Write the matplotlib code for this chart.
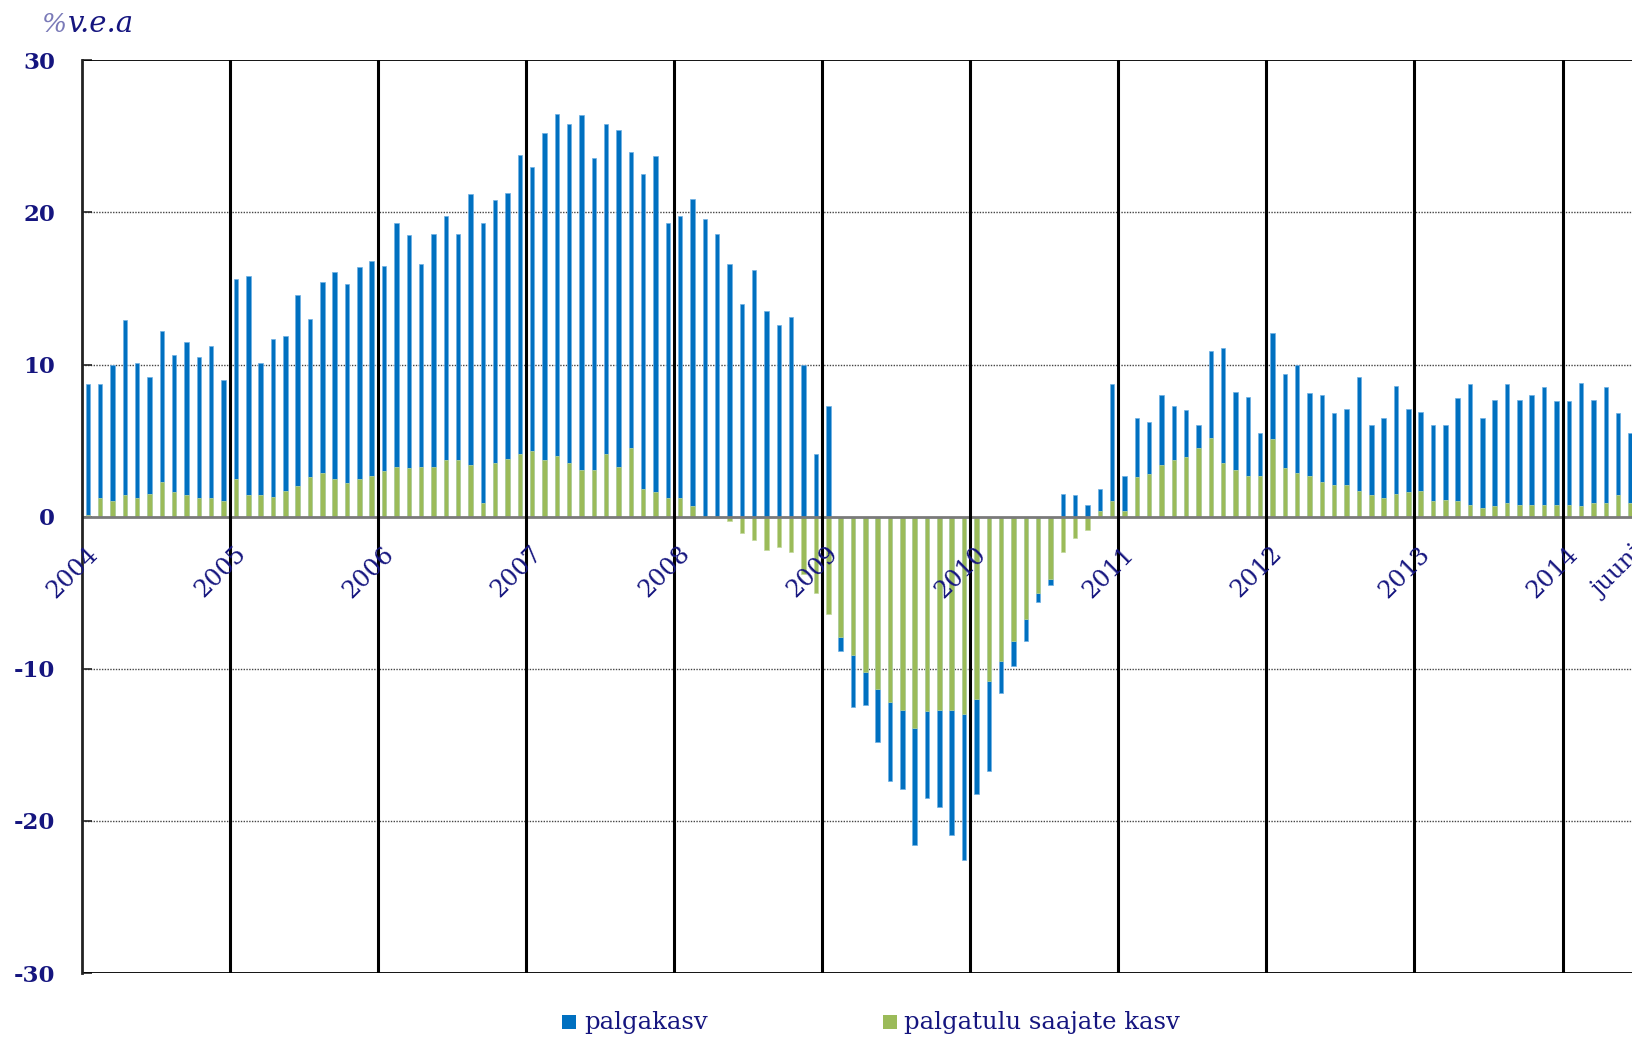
import matplotlib
matplotlib.use("Agg")
import matplotlib.pyplot as plt
import numpy as np
from matplotlib.patches import Rectangle

# ---------------- data ----------------
years = [2004, 2005, 2006, 2007, 2008, 2009, 2010, 2011, 2012, 2013, 2014]
year_labels = [str(y) for y in years]
end_label = "juuni"

palgakasv = [
    # 2004
    8.7, 8.7, 10.0, 12.9, 10.1, 9.2, 12.2, 10.6, 11.5, 10.5, 11.2, 9.0,
    # 2005
    15.6, 15.8, 10.1, 11.7, 11.9, 14.6, 13.0, 15.4, 16.1, 15.3, 16.4, 16.8,
    # 2006
    16.5, 19.3, 18.5, 16.6, 18.6, 19.8, 18.6, 21.2, 19.3, 20.8, 21.3, 23.8,
    # 2007
    23.0, 25.2, 26.5, 25.8, 26.4, 23.6, 25.8, 25.4, 24.0, 22.5, 23.7, 19.3,
    # 2008
    19.8, 20.9, 19.6, 18.6, 16.6, 14.0, 16.2, 13.5, 12.6, 13.1, 10.0, 4.1,
    # 2009
    7.3, -8.8, -12.5, -12.4, -14.8, -17.4, -17.9, -21.6, -18.5, -19.1, -20.9, -22.6,
    # 2010
    -18.2, -16.7, -11.6, -9.8, -8.2, -5.6, -4.5, 1.5, 1.4, 0.8, 1.8, 8.7,
    # 2011
    2.7, 6.5, 6.2, 8.0, 7.3, 7.0, 6.0, 10.9, 11.1, 8.2, 7.9, 5.5,
    # 2012
    12.1, 9.4, 10.0, 8.1, 8.0, 6.8, 7.1, 9.2, 6.0, 6.5, 8.6, 7.1,
    # 2013
    6.9, 6.0, 6.0, 7.8, 8.7, 6.5, 7.7, 8.7, 7.7, 8.0, 8.5, 7.6,
    # 2014
    7.6, 8.8, 7.7, 8.5, 6.8, 5.5,
]

palgatulu_saajate_kasv = [
    # 2004
    0.1, 1.2, 1.0, 1.4, 1.2, 1.5, 2.3, 1.6, 1.4, 1.2, 1.2, 1.0,
    # 2005
    2.5, 1.4, 1.4, 1.3, 1.7, 2.0, 2.6, 2.9, 2.5, 2.2, 2.5, 2.7,
    # 2006
    3.0, 3.3, 3.2, 3.3, 3.3, 3.7, 3.7, 3.4, 0.9, 3.5, 3.8, 4.1,
    # 2007
    4.3, 3.7, 4.0, 3.5, 3.1, 3.1, 4.1, 3.3, 4.5, 1.8, 1.6, 1.2,
    # 2008
    1.2, 0.7, 0.0, -0.1, -0.3, -1.1, -1.5, -2.2, -2.0, -2.3, -3.8, -5.0,
    # 2009
    -6.4, -7.9, -9.1, -10.2, -11.3, -12.2, -12.7, -13.9, -12.8, -12.7, -12.7, -13.0,
    # 2010
    -12.0, -10.8, -9.5, -8.2, -6.7, -5.0, -4.1, -2.3, -1.4, -0.9, 0.35, 1.0,
    # 2011
    0.4, 2.6, 2.8, 3.4, 3.7, 3.9, 4.5, 5.2, 3.5, 3.1, 2.7, 2.7,
    # 2012
    5.1, 3.2, 2.9, 2.7, 2.3, 2.1, 2.1, 1.7, 1.4, 1.25, 1.5, 1.6,
    # 2013
    1.7, 1.0, 1.1, 1.0, 0.8, 0.6, 0.7, 0.9, 0.8, 0.8, 0.75, 0.75,
    # 2014
    0.8, 0.7, 0.9, 0.9, 1.4, 0.9,
]

y_ticks = [-30, -20, -10, 0, 10, 20, 30]
y_ticklabels = ["-30", "-20", "-10", "0", "10", "20", "30"]
unit_label = "v.e.a"
legend_labels = ["palgakasv", "palgatulu saajate kasv"]

# ---------------- style ----------------
BLUE = "#0070C0"
GREEN = "#9BBB59"
NAVY = "#15157f"
SERIF = "DejaVu Serif"

W, H = 1632, 1038
fig = plt.figure(figsize=(W / 100, H / 100), dpi=100)

left_px, right_px = 81.7, 1636.6
top_px, bottom_px = 60.4, 973.0
ax = fig.add_axes([left_px / W, 1 - bottom_px / H,
                   (right_px - left_px) / W, (bottom_px - top_px) / H])

n = len(palgakasv)
x = np.arange(n) + 0.5
bw = 0.36
ax.bar(x, palgakasv, width=bw, color=BLUE, edgecolor="#6fb0e4",
       linewidth=0.5, zorder=3)
ax.bar(x, palgatulu_saajate_kasv, width=bw, color=GREEN, edgecolor="#c3d99c",
       linewidth=0.5, zorder=4)

ax.set_xlim(0, 126)
ax.set_ylim(-30, 30)

# grid lines
for v in [-20, -10, 10, 20]:
    ax.axhline(v, color="#444444", linewidth=1.0, linestyle=(0, (1, 1)), zorder=1)
ax.axhline(30, color="black", linewidth=1.3, zorder=5)
ax.axhline(-30, color="black", linewidth=1.3, zorder=5)
ax.axhline(0, color="#7a7a7a", linewidth=2.0, zorder=5)
for k in range(1, len(years)):
    ax.axvline(12 * k, color="black", linewidth=2.2, zorder=6)

for s in ["top", "right", "bottom"]:
    ax.spines[s].set_visible(False)
ax.spines["left"].set_color("#222222")
ax.spines["left"].set_linewidth(2.0)
ax.spines["left"].set_zorder(7)

ax.set_xticks([])
ax.set_yticks(y_ticks)
ax.set_yticklabels(y_ticklabels)
ax.tick_params(axis="y", direction="in", length=7, width=1.2, color="#222222",
               pad=19, labelsize=16.5, labelcolor=NAVY)
for lab in ax.get_yticklabels():
    lab.set_fontfamily(SERIF)
    lab.set_fontweight("bold")

# rotated year labels sitting at the zero line
for k, lab in enumerate(year_labels):
    ax.text(12 * k + 1.0, -2.2, lab, rotation=45, ha="right", va="center",
            rotation_mode="anchor", fontsize=17.5, color=NAVY, family=SERIF,
            zorder=8)
ax.text(126.3, -2.2, end_label, rotation=45, ha="right", va="center",
        rotation_mode="anchor", fontsize=17.5, color=NAVY, family=SERIF, zorder=8,
        clip_on=False)

# unit label
fig.text(41 / W, 1 - 24 / H, "%", fontsize=19, color="#7a7ab8", family=SERIF,
         style="italic", ha="left", va="center")
fig.text(68 / W, 1 - 24 / H, unit_label, fontsize=21, color=NAVY, family=SERIF,
         style="italic", ha="left", va="center")

# legend (manual)
ly = 1022
for (sx, tx, col, lab) in [(562, 584, BLUE, legend_labels[0]),
                           (883, 904, GREEN, legend_labels[1])]:
    fig.patches.append(Rectangle((sx / W, 1 - (ly + 7) / H), 14 / W, 14 / H,
                                 transform=fig.transFigure, facecolor=col,
                                 edgecolor="none"))
    fig.text(tx / W, 1 - ly / H, lab, fontsize=17.5, color=NAVY, family=SERIF,
             ha="left", va="center")

fig.savefig("out.png", dpi=100)
